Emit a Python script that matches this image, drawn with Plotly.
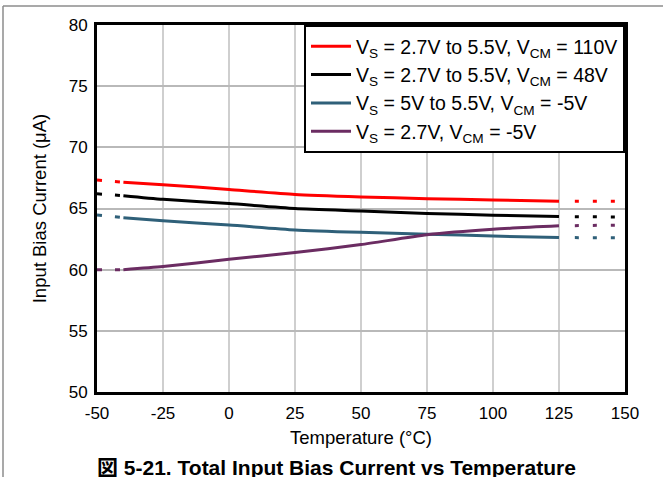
import plotly.graph_objects as go

# ---- data ----
temps = [-40, -25, 0, 25, 50, 75, 100, 125]
red_vals = [67.15, 66.95, 66.55, 66.15, 65.95, 65.8, 65.7, 65.6]
black_vals = [66.05, 65.75, 65.4, 65.0, 64.8, 64.6, 64.45, 64.35]
teal_vals = [64.25, 64.0, 63.65, 63.25, 63.05, 62.9, 62.75, 62.62]
purple_vals = [60.0, 60.25, 60.85, 61.4, 62.05, 62.85, 63.3, 63.58]

ext_left_t = [-50, -41]
ext_right_t = [131, 150]
red_left = [67.33, 67.17]
black_left = [66.2, 66.06]
teal_left = [64.47, 64.27]
purple_left = [60.0, 60.0]
red_right = [65.6, 65.58]
black_right = [64.33, 64.3]
teal_right = [62.62, 62.6]
purple_right = [63.6, 63.65]

names = [
    "V<sub>S</sub> = 2.7V to 5.5V, V<sub>CM</sub> = 110V",
    "V<sub>S</sub> = 2.7V to 5.5V, V<sub>CM</sub> = 48V",
    "V<sub>S</sub> = 5V to 5.5V, V<sub>CM</sub> = -5V",
    "V<sub>S</sub> = 2.7V, V<sub>CM</sub> = -5V",
]
colors = ["#ff0000", "#000000", "#2f6079", "#6b2c62"]

x_ticks = [-50, -25, 0, 25, 50, 75, 100, 125, 150]
x_ticktext = ["-50", "-25", "0", "25", "50", "75", "100", "125", "150"]
y_ticks = [50, 55, 60, 65, 70, 75, 80]
y_ticktext = ["50", "55", "60", "65", "70", "75", "80"]

FONT = "Arial, Liberation Sans, sans-serif"

fig = go.Figure()
series = [
    (red_vals, red_left, red_right),
    (black_vals, black_left, black_right),
    (teal_vals, teal_left, teal_right),
    (purple_vals, purple_left, purple_right),
]
for i, (vals, lv, rv) in enumerate(series):
    fig.add_trace(go.Scatter(x=temps, y=vals, mode="lines", name=names[i],
                             line=dict(color=colors[i], width=3, shape="spline", smoothing=0.6)))
    fig.add_trace(go.Scatter(x=ext_left_t, y=lv, mode="lines", showlegend=False,
                             line=dict(color=colors[i], width=3, dash="5px,13px")))
    fig.add_trace(go.Scatter(x=ext_right_t, y=rv, mode="lines", showlegend=False,
                             line=dict(color=colors[i], width=3, dash="4px,14px")))

fig.update_layout(
    width=663, height=477,
    margin=dict(l=97, r=38, t=25, b=85),
    paper_bgcolor="white", plot_bgcolor="white",
    font=dict(family=FONT, size=17, color="black"),
    legend=dict(x=1, y=1, xanchor="right", yanchor="top",
                bgcolor="white", bordercolor="black", borderwidth=2,
                font=dict(family=FONT, size=19.5, color="black"),
                tracegroupgap=0, itemwidth=40),
    xaxis=dict(range=[-50, 150], tickvals=x_ticks, ticktext=x_ticktext,
               showgrid=True, gridcolor="#cfcfcf", gridwidth=2,
               showline=True, linecolor="black", linewidth=3, mirror=True,
               zeroline=False, ticks="", ticklabelstandoff=4,
               tickfont=dict(size=17),
               title=dict(text="Temperature (°C)", font=dict(size=18.5), standoff=9)),
    yaxis=dict(range=[50, 80], tickvals=y_ticks, ticktext=y_ticktext,
               showgrid=True, gridcolor="#b9b9b9", gridwidth=2,
               showline=True, linecolor="black", linewidth=3, mirror=True,
               zeroline=False, ticks="", ticklabelstandoff=3,
               tickfont=dict(size=17),
               title=dict(text="Input Bias Current (μA)", font=dict(size=18.5), standoff=18)),
)

# frame lines (left and top)
fig.add_shape(type="line", xref="paper", yref="paper",
              x0=(3 - 97) / 528, x1=(3 - 97) / 528, y0=-0.3, y1=1 + (25 - 6) / 367,
              line=dict(color="#8c8c8c", width=1.5))
fig.add_shape(type="line", xref="paper", yref="paper",
              x0=(3 - 97) / 528, x1=1.2, y0=1 + (25 - 6) / 367, y1=1 + (25 - 6) / 367,
              line=dict(color="#8c8c8c", width=1.5))

fig.add_annotation(
    text="<b><span style='font-family:Noto Sans CJK JP'>図</span> 5-21. Total Input Bias Current vs Temperature</b>",
    xref="paper", yref="paper", x=(336 - 97) / 528, y=(392 - 449) / 367,
    xanchor="center", yanchor="top", showarrow=False,
    font=dict(family=FONT, size=21, color="black"))

fig.write_html("out.html")
